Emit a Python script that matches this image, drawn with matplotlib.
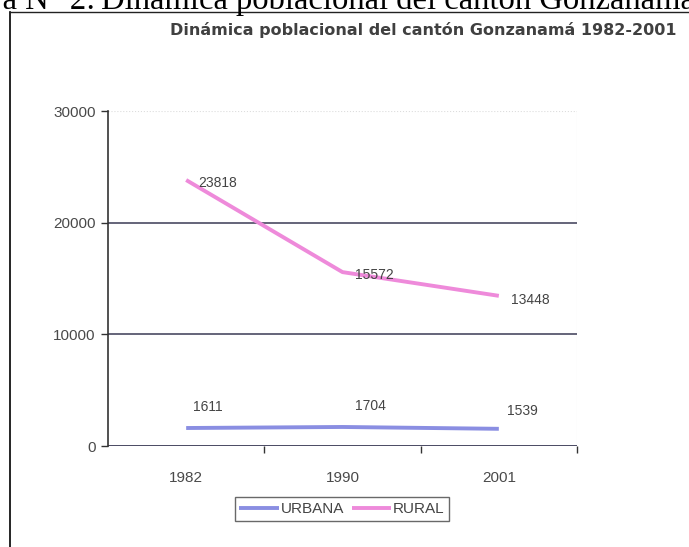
import matplotlib
matplotlib.use("Agg")
import matplotlib.pyplot as plt
from matplotlib.lines import Line2D

years = ["1982", "1990", "2001"]
urbana = [1611, 1704, 1539]
rural = [23818, 15572, 13448]
yticks = [0, 10000, 20000, 30000]

W, H = 689, 547
fig = plt.figure(figsize=(W / 100, H / 100), dpi=100)
fig.patch.set_facecolor("white")

def fx(px):
    return px / W

def fy(py):
    return 1 - py / H

# caption of the scanned page (clipped at the top edge, as in the scan)
cap_kw = dict(family="Liberation Serif", fontsize=23.5, color="black", va="baseline")
fig.text(fx(95), fy(9), "Figura N° 2:", ha="right", **cap_kw)
fig.text(fx(101), fy(9), "Dinámica poblacional del cantón Gonzanamá", ha="left", **cap_kw)

# outer frame lines
fig.add_artist(Line2D([fx(10), fx(10)], [0, fy(12)], color="black", lw=1.2, transform=fig.transFigure))
fig.add_artist(Line2D([fx(10), 1], [fy(12), fy(12)], color="#222222", lw=1.0, transform=fig.transFigure))

# chart title
fig.text(fx(676), fy(35), "Dinámica poblacional del cantón Gonzanamá 1982-2001",
         family="DejaVu Sans", fontsize=11.5, fontweight="bold", color="#404040",
         ha="right", va="baseline")

x0, x1 = 108, 577
y0, y1 = 446, 111
ax = fig.add_axes([fx(x0), fy(y0), (x1 - x0) / W, (y0 - y1) / H])
ax.set_xlim(-0.5, 2.5)
ax.set_ylim(0, 30000)
xs = list(range(len(years)))

ax.plot(xs, urbana, color="#8a8ee2", lw=2.8, solid_capstyle="butt", label="URBANA", zorder=3)
ax.plot(xs, rural, color="#ee8ada", lw=2.8, solid_capstyle="butt", label="RURAL", zorder=3)

for g in [10000, 20000]:
    ax.axhline(g, color="#4a4a62", lw=1.2, zorder=1)
ax.axhline(0, color="#4a4a62", lw=1.4, zorder=1)
ax.axhline(30000, color="#dddddd", lw=0.8, ls=":", zorder=1)

ax.set_yticks(yticks)
ax.set_yticklabels([str(v) for v in yticks], family="Liberation Sans", fontsize=11, color="#4a4a4a")
ax.set_xticks(xs)
ax.set_xticklabels(years, family="Liberation Sans", fontsize=11, color="#4a4a4a")
ax.tick_params(axis="x", length=0, pad=18)
ax.tick_params(axis="y", length=5, width=1, color="#333333", pad=4)
ax.set_xticks([0.5, 1.5, 2.5], minor=True)
ax.tick_params(axis="x", which="minor", length=5, width=1, color="#333333", direction="out")

for s in ["top", "right", "bottom"]:
    ax.spines[s].set_visible(False)
ax.spines["left"].set_color("#333333")
ax.spines["left"].set_linewidth(1.2)
ax.axvline(2.5, color="#e6e6e6", lw=0.8, zorder=0)

lab_kw = dict(family="Liberation Sans", fontsize=10, color="#444444", ha="left", va="center")
# RURAL labels
ax.text(0 + 0.08, rural[0] - 250, str(rural[0]), **lab_kw)
ax.text(1 + 0.077, rural[1] - 300, str(rural[1]), **lab_kw)
ax.text(2 + 0.077, rural[2] - 400, str(rural[2]), **lab_kw)
# URBANA labels
ax.text(0 + 0.045, urbana[0] + 1870, str(urbana[0]), **lab_kw)
ax.text(1 + 0.077, urbana[1] + 1870, str(urbana[1]), **lab_kw)
ax.text(2 + 0.05, urbana[2] + 1590, str(urbana[2]), **lab_kw)

leg = fig.legend(loc="center", bbox_to_anchor=(fx(342), fy(509)), ncol=2,
                 prop={"family": "Liberation Sans", "size": 11}, frameon=True, fancybox=False,
                 handlelength=2.6, handletextpad=0.1, columnspacing=0.5, borderpad=0.3,
                 borderaxespad=0)
leg.get_frame().set_edgecolor("#444444")
leg.get_frame().set_linewidth(1.0)
for t in leg.get_texts():
    t.set_color("#444444")

fig.savefig("out.png", dpi=100, facecolor="white")
